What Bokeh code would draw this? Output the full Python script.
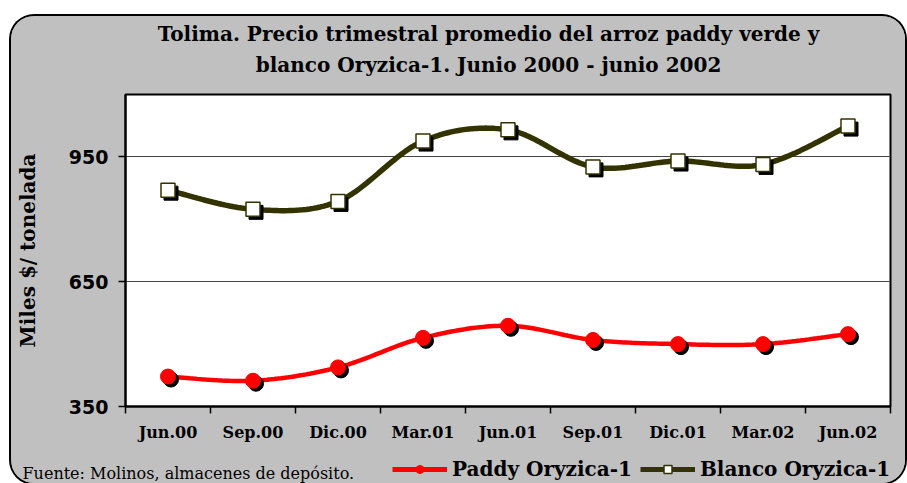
import numpy as np
from bokeh.plotting import figure
from bokeh.layouts import column
from bokeh.models import FixedTicker, Legend, LegendItem, ColumnDataSource, Label
from bokeh.transform import dodge
from bokeh.embed import file_html
from bokeh.resources import INLINE

# ---------------- data ----------------
categories = ["Jun.00", "Sep.00", "Dic.00", "Mar.01", "Jun.01",
              "Sep.01", "Dic.01", "Mar.02", "Jun.02"]
paddy = [422, 412, 444, 515, 544, 510, 500, 500, 524]
blanco = [870, 824, 843, 988, 1015, 926, 940, 932, 1024]
y_ticks = [350, 650, 950]
title_lines = ["Tolima. Precio trimestral promedio del arroz paddy verde y",
               "blanco Oryzica-1. Junio 2000 - junio 2002"]
y_label = "Miles $/ tonelada"
source_note = "Fuente: Molinos, almacenes de depósito."
series_names = ["Paddy Oryzica-1", "Blanco Oryzica-1"]

# ---------------- layout ----------------
Y0, Y1 = 350, 1100
FIG_W = 894
HEAD_H = 76
FRAME_W, FRAME_H = 765, 312
B_LEFT, B_TOP, B_RIGHT, B_BOTTOM = 114, 2, 15, 46
FOOT_H = 31
N = len(categories)
RED = "#FF0000"
OLIVE = "#333300"
GRAY = "#C0C0C0"


def smooth(xs, ys, steps=24):
    P = np.column_stack([xs, ys]).astype(float)
    P = np.vstack([P[0], P, P[-1]])
    out = []
    for i in range(1, len(P) - 2):
        p0, p1, p2, p3 = P[i - 1], P[i], P[i + 1], P[i + 2]
        c1 = p1 + (p2 - p0) / 6.0
        c2 = p2 - (p3 - p1) / 6.0
        t = np.linspace(0, 1, steps, endpoint=(i == len(P) - 3))[:, None]
        seg = ((1 - t) ** 3) * p1 + 3 * ((1 - t) ** 2) * t * c1 + 3 * (1 - t) * t ** 2 * c2 + t ** 3 * p2
        out.append(seg)
    arr = np.vstack(out)
    return arr[:, 0], arr[:, 1]


def strip(height):
    s = figure(width=FIG_W, height=height, x_range=(0, FIG_W), y_range=(0, height),
               output_backend="svg", toolbar_location=None,
               min_border_left=0, min_border_right=0, min_border_top=0, min_border_bottom=0)
    s.axis.visible = False
    s.grid.visible = False
    s.outline_line_color = None
    s.background_fill_color = GRAY
    s.border_fill_color = GRAY
    s.frame_align = False
    return s


# ---------------- header strip: title ----------------
head = strip(HEAD_H)
for txt, yy in zip(title_lines, [59, 28]):
    head.add_layout(Label(x=477, y=yy, text=txt, text_align="center", text_baseline="middle",
                          text_font="DejaVu Serif", text_font_style="bold",
                          text_font_size="20px", text_color="black"))

# ---------------- main plot ----------------
xs = [i + 0.5 for i in range(N)]
src = ColumnDataSource(dict(x=xs, paddy=paddy, blanco=blanco))

p = figure(frame_width=FRAME_W, frame_height=FRAME_H,
           x_range=(0, N), y_range=(Y0, Y1),
           output_backend="svg", toolbar_location=None,
           min_border_left=B_LEFT, min_border_right=B_RIGHT,
           min_border_top=B_TOP, min_border_bottom=B_BOTTOM)
p.frame_align = False
p.border_fill_color = GRAY
p.background_fill_color = "white"
p.outline_line_color = "black"
p.outline_line_width = 2

p.xaxis.ticker = FixedTicker(ticks=xs, minor_ticks=list(range(N + 1)))
p.xaxis.major_label_overrides = {x: c for x, c in zip(xs, categories)}
p.xaxis.major_tick_line_color = None
p.xaxis.major_tick_out = 7
p.xaxis.major_tick_in = 0
p.xaxis.minor_tick_out = 7
p.xaxis.minor_tick_in = 0
p.xaxis.minor_tick_line_color = "black"
p.xaxis.minor_tick_line_width = 1.5
p.xaxis.axis_line_width = 2
p.xaxis.major_label_standoff = 9
p.xaxis.major_label_text_font = "DejaVu Serif"
p.xaxis.major_label_text_font_style = "bold"
p.xaxis.major_label_text_font_size = "16px"
p.xaxis.major_label_text_color = "black"

p.yaxis.ticker = FixedTicker(ticks=y_ticks, minor_ticks=[])
p.yaxis.major_tick_out = 7
p.yaxis.major_tick_in = 0
p.yaxis.major_tick_line_width = 1.5
p.yaxis.axis_line_width = 2
p.yaxis.major_label_standoff = 10
p.yaxis.major_label_text_font = "DejaVu Sans"
p.yaxis.major_label_text_font_style = "bold"
p.yaxis.major_label_text_font_size = "19px"
p.yaxis.major_label_text_color = "black"
p.yaxis.axis_label = y_label
p.yaxis.axis_label_standoff = 26
p.yaxis.axis_label_text_font = "DejaVu Serif"
p.yaxis.axis_label_text_font_style = "bold"
p.yaxis.axis_label_text_font_size = "20px"
p.yaxis.axis_label_text_color = "black"

p.xgrid.visible = False
p.ygrid.grid_line_color = "#444444"
p.ygrid.grid_line_width = 1

dx = 3 * N / FRAME_W
dy = -3 * (Y1 - Y0) / FRAME_H

bx, by = smooth(xs, blanco)
px_, py_ = smooth(xs, paddy)
p.line(bx, by, line_color=OLIVE, line_width=5.5)
p.line(px_, py_, line_color=RED, line_width=4.5)

p.scatter(dodge("x", dx, range=p.x_range), dodge("blanco", dy, range=p.y_range), source=src,
          marker="square", size=14, fill_color="black", line_color="black")
p.scatter("x", "blanco", source=src, marker="square", size=14,
          fill_color="white", line_color=OLIVE, line_width=1.5)
p.scatter(dodge("x", dx, range=p.x_range), dodge("paddy", dy, range=p.y_range), source=src,
          marker="circle", size=15, fill_color="black", line_color="black")
p.scatter("x", "paddy", source=src, marker="circle", size=15,
          fill_color=RED, line_color=RED)

# ---------------- footer strip: source note + legend ----------------
foot = strip(FOOT_H)
nan = [np.nan]
lp = foot.line(nan, nan, line_color=RED, line_width=5)
mp = foot.scatter(nan, nan, marker="circle", size=10, fill_color=RED, line_color=RED)
lb = foot.line(nan, nan, line_color=OLIVE, line_width=5)
mb = foot.scatter(nan, nan, marker="square", size=10, fill_color="white",
                  line_color=OLIVE, line_width=1.5)

foot.add_layout(Label(x=11, y=10, text=source_note, text_align="left",
                      text_baseline="middle", text_font="DejaVu Serif",
                      text_font_size="16px", text_color="black"))

legend = Legend(items=[LegendItem(label=series_names[0], renderers=[lp, mp]),
                       LegendItem(label=series_names[1], renderers=[lb, mb])],
                orientation="horizontal", location=(381, 2),
                background_fill_alpha=0, border_line_color=None,
                glyph_width=55, glyph_height=20, label_height=20,
                label_standoff=5, spacing=8, padding=0, margin=0,
                label_text_font="DejaVu Serif", label_text_font_style="bold",
                label_text_font_size="20px", label_text_color="black")
foot.add_layout(legend, "center")

layout = column(head, p, foot, spacing=0)
layout.margin = (16, 0, 0, 11)
layout.styles = {"border-radius": "23px", "box-shadow": "0 0 0 2px black",
                 "overflow": "hidden", "background-color": GRAY}

open("out.html", "w").write(file_html(layout, INLINE))
